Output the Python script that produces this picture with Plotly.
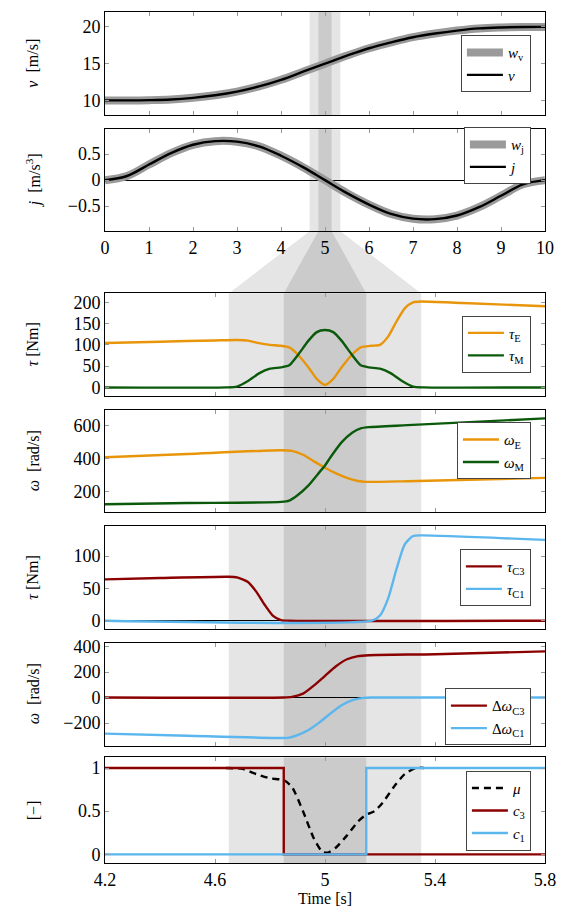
import plotly.graph_objects as go

# ---------------- data ----------------
t_top = [0, 0.5, 1, 1.5, 2, 2.5, 3, 3.5, 4, 4.5, 5, 5.5, 6, 6.5, 7, 7.5, 8, 8.5, 9, 9.5, 10]
v_vals = [10.0, 10.0, 10.03, 10.12, 10.35, 10.7, 11.2, 11.9, 12.8, 13.9, 15.0, 16.1, 17.1, 17.9, 18.6, 19.1, 19.5, 19.8, 19.93, 19.99, 20.0]
j_vals = [0.0, 0.08, 0.3, 0.52, 0.68, 0.75, 0.74, 0.65, 0.47, 0.25, 0.0, -0.25, -0.47, -0.65, -0.74, -0.75, -0.68, -0.52, -0.3, -0.08, 0.0]

light_band = [4.65, 5.35]
dark_band = [4.85, 5.15]

t_tauE = [4.2, 4.4, 4.6, 4.68, 4.72, 4.76, 4.8, 4.84, 4.87, 4.9, 4.94, 4.97, 5.0, 5.03, 5.06, 5.1, 5.13, 5.17, 5.2, 5.23, 5.26, 5.29, 5.32, 5.35, 5.5, 5.8]
tauE = [104.6, 107.5, 110.5, 111.5, 110, 104, 100, 98, 94, 78, 47, 20, 6, 20, 47, 78, 94, 98, 100, 120, 155, 186, 200, 202, 198.5, 191]
t_tauM = [4.2, 4.64, 4.68, 4.72, 4.76, 4.8, 4.84, 4.87, 4.9, 4.94, 4.97, 5.0, 5.03, 5.06, 5.1, 5.13, 5.16, 5.2, 5.24, 5.28, 5.32, 5.36, 5.8]
tauM = [0, 0, 2, 15, 33, 44, 47, 52, 75, 110, 130, 135, 130, 110, 75, 52, 47, 44, 33, 15, 2, 0, 0]

t_wE = [4.2, 4.5, 4.84, 4.88, 4.92, 4.96, 5.0, 5.04, 5.08, 5.12, 5.15, 5.3, 5.8]
wE = [410, 430, 452, 448, 425, 385, 346, 312, 285, 266, 261, 265, 285]
t_wM = [4.2, 4.5, 4.84, 4.87, 4.9, 4.94, 4.98, 5.0, 5.02, 5.06, 5.1, 5.13, 5.16, 5.3, 5.8]
wM = [126, 133, 140, 148, 180, 240, 320, 360, 410, 500, 560, 585, 592, 604, 645]

t_tC3 = [4.2, 4.4, 4.65, 4.68, 4.72, 4.75, 4.78, 4.81, 4.84, 4.87, 5.8]
tauC3 = [64, 66, 68, 67, 60, 45, 25, 8, 1, 0, 0]
t_tC1 = [4.2, 5.17, 5.2, 5.23, 5.26, 5.29, 5.32, 5.35, 5.8]
tauC1 = [0, 0, 8, 35, 80, 118, 131, 132, 125]

t_dC3 = [4.2, 4.85, 4.88, 4.92, 4.96, 5.0, 5.04, 5.08, 5.12, 5.16, 5.4, 5.8]
dwC3 = [0, 0, 5, 30, 95, 170, 245, 300, 325, 332, 340, 362]
t_dC1 = [4.2, 4.5, 4.84, 4.87, 4.9, 4.94, 4.98, 5.02, 5.06, 5.1, 5.14, 5.17, 5.8]
dwC1 = [-283, -300, -318, -315, -295, -255, -195, -125, -60, -20, -3, 0, 0]

t_mu = [4.64, 4.7, 4.75, 4.8, 4.85, 4.88, 4.92, 4.96, 4.99, 5.01, 5.04, 5.08, 5.12, 5.15, 5.18, 5.21, 5.25, 5.29, 5.33, 5.36]
mu = [1.0, 0.99, 0.93, 0.88, 0.86, 0.78, 0.5, 0.18, 0.03, 0.02, 0.08, 0.22, 0.38, 0.46, 0.5, 0.6, 0.78, 0.93, 1.0, 1.0]
t_c3 = [4.2, 4.85, 5.8]
c3 = [1, 0, 0]
t_c1 = [4.2, 5.15, 5.8]
c1 = [0, 1, 1]

top_ticks = [0, 1, 2, 3, 4, 5, 6, 7, 8, 9, 10]
bot_ticks = [4.2, 4.6, 5.0, 5.4, 5.8]
bot_ticklabels = ["4.2", "4.6", "5", "5.4", "5.8"]

# ---------------- style ----------------
FONT = "Liberation Serif, DejaVu Serif, serif"
ORANGE = "#E8950A"
GREEN = "#0B5A0B"
RED = "#8B0000"
BLUE = "#5BB6EE"
LIGHT = "#E5E5E5"
DARK = "#CBCBCB"

ydom = [[0.8786, 1.0], [0.7425, 0.8623], [0.5491, 0.6693], [0.4119, 0.5324],
        [0.2750, 0.3956], [0.1377, 0.2590], [0.0, 0.1240]]
yranges = [[7.97, 22.03], [-0.98, 0.98], [-19.5, 221], [76, 696], [-12.8, 146], [-379, 431], [-0.1, 1.122]]
yticks = [[10, 15, 20], [-0.5, 0, 0.5], [0, 50, 100, 150, 200], [200, 400, 600], [0, 50, 100], [-200, 0, 200, 400], [0, 0.5, 1]]
ytitles = ["<i>v</i>  [m/s]", "<i>j</i>  [m/s<sup>3</sup>]", "<i>τ</i> [Nm]", "<i>ω</i>  [rad/s]",
           "<i>τ</i> [Nm]", "<i>ω</i>  [rad/s]", "[−]"]
leg_y = [0.9393, 0.8312, 0.6097, 0.4844, 0.3353, 0.1717, 0.0614]

fig = go.Figure()

def add(i, x, y, name, color, width=2.4, dash=None, shape="spline", smoothing=0.6):
    ax = "" if i == 1 else str(i)
    fig.add_trace(go.Scatter(
        x=x, y=y, name=name, mode="lines",
        line=dict(color=color, width=width, dash=dash, shape=shape,
                  smoothing=smoothing if shape == "spline" else None),
        xaxis="x" + ax, yaxis="y" + ax,
        legend="legend" if i == 1 else "legend" + str(i),
        showlegend=True,
    ))

add(1, t_top, v_vals, "<i>w</i><sub>v</sub>", "#9A9A9A", width=8, smoothing=1.0)
add(1, t_top, v_vals, "<i>v</i>", "black", width=2.4, smoothing=1.0)
add(2, t_top, j_vals, "<i>w</i><sub>j</sub>", "#9A9A9A", width=8, smoothing=1.0)
add(2, t_top, j_vals, "<i>j</i>", "black", width=2.4, smoothing=1.0)
add(3, t_tauE, tauE, "<i>τ</i><sub>E</sub>", ORANGE)
add(3, t_tauM, tauM, "<i>τ</i><sub>M</sub>", GREEN)
add(4, t_wE, wE, "<i>ω</i><sub>E</sub>", ORANGE)
add(4, t_wM, wM, "<i>ω</i><sub>M</sub>", GREEN)
add(5, t_tC3, tauC3, "<i>τ</i><sub>C3</sub>", RED)
add(5, t_tC1, tauC1, "<i>τ</i><sub>C1</sub>", BLUE)
add(6, t_dC3, dwC3, "Δ<i>ω</i><sub>C3</sub>", RED)
add(6, t_dC1, dwC1, "Δ<i>ω</i><sub>C1</sub>", BLUE)
add(7, t_mu, mu, "<i>μ</i>", "black", dash="7px,5px")
add(7, t_c3, c3, "<i>c</i><sub>3</sub>", RED, shape="hv")
add(7, t_c1, c1, "<i>c</i><sub>1</sub>", BLUE, shape="hv")

layout = dict(
    width=569, height=914,
    margin=dict(l=105, r=24, t=6, b=51),
    paper_bgcolor="white", plot_bgcolor="white",
    font=dict(family=FONT, size=16, color="black"),
    shapes=[], annotations=[],
)

for i in range(1, 8):
    ax = "" if i == 1 else str(i)
    top = i <= 2
    xa = dict(
        domain=[0, 1], anchor="y" + ax,
        range=[0, 10] if top else [4.2, 5.8],
        tickvals=top_ticks if top else bot_ticks,
        ticktext=[str(t) for t in top_ticks] if top else bot_ticklabels,
        showticklabels=(i == 2 or i == 7),
        ticks="inside", ticklen=4, tickcolor="#9a9a9a",
        showline=True, linecolor="black", linewidth=1, mirror="ticks",
        showgrid=False, zeroline=False,
        tickfont=dict(size=18),
    )
    if i == 7:
        xa["title"] = dict(text="Time [s]", font=dict(size=16), standoff=4)
    ya = dict(
        domain=ydom[i - 1], anchor="x" + ax,
        range=yranges[i - 1], tickvals=yticks[i - 1],
        ticks="inside", ticklen=4, tickcolor="#9a9a9a",
        showline=True, linecolor="black", linewidth=1, mirror="ticks",
        showgrid=False, zeroline=True, zerolinecolor="black", zerolinewidth=0.8,
        tickfont=dict(size=18),
    )
    layout["xaxis" + ax] = xa
    layout["yaxis" + ax] = ya
    layout["annotations"].append(dict(
        text=ytitles[i - 1], xref="paper", yref="paper",
        x=(33 - 105) / 440.0, y=(ydom[i - 1][0] + ydom[i - 1][1]) / 2,
        xanchor="center", yanchor="middle", textangle=-90, showarrow=False,
        font=dict(size=16)))
    lname = "legend" if i == 1 else "legend" + str(i)
    layout[lname] = dict(
        x=0.968, y=leg_y[i - 1], xanchor="right", yanchor="middle",
        bgcolor="white", bordercolor="#444", borderwidth=1,
        font=dict(size=15), tracegroupgap=0, itemwidth=36,
    )
    for band, col in ((light_band, LIGHT), (dark_band, DARK)):
        layout["shapes"].append(dict(
            type="rect", xref="x" + ax, yref="y" + ax + " domain",
            x0=band[0], x1=band[1], y0=0, y1=1,
            fillcolor=col, line=dict(width=0), layer="below"))

# funnel connecting the zoom window of the top axes to the bottom axes
y_hi = ydom[1][0]
y_lo = ydom[2][1]
for band, col in ((light_band, LIGHT), (dark_band, DARK)):
    xa0, xa1 = band[0] / 10.0, band[1] / 10.0
    xb0, xb1 = (band[0] - 4.2) / 1.6, (band[1] - 4.2) / 1.6
    path = f"M {xa0} {y_hi} L {xa1} {y_hi} L {xb1} {y_lo} L {xb0} {y_lo} Z"
    layout["shapes"].append(dict(
        type="path", xref="paper", yref="paper", path=path,
        fillcolor=col, line=dict(width=0), layer="below"))

fig.update_layout(**layout)
fig.write_html("out.html", config={"displayModeBar": False},
               post_script="document.body.style.margin='0';document.body.style.overflow='hidden';")
